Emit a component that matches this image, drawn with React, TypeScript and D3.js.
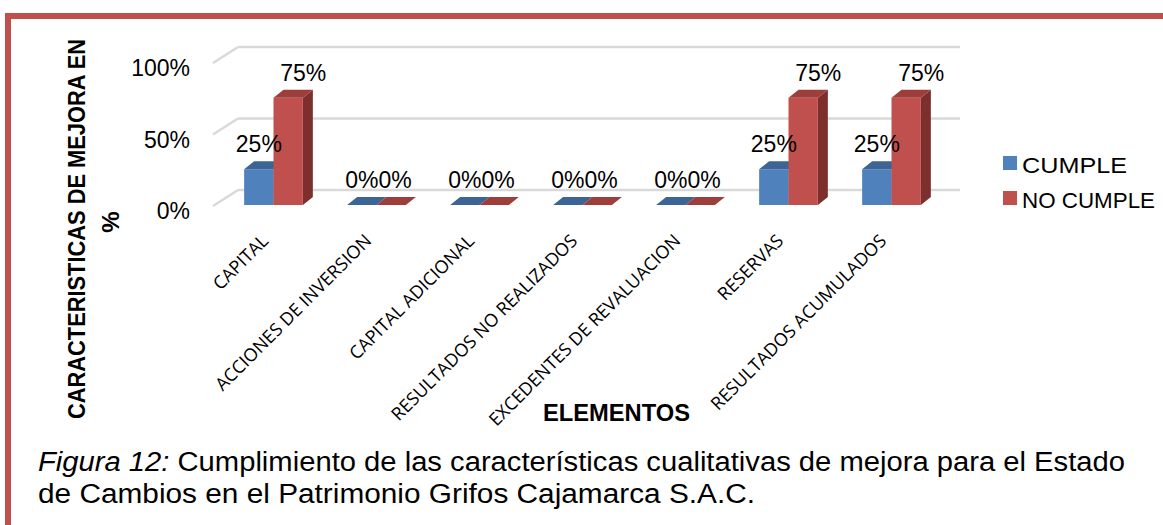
import React from 'react';
import * as d3 from 'd3';

const categories = [
  'CAPITAL',
  'ACCIONES DE INVERSION',
  'CAPITAL ADICIONAL',
  'RESULTADOS NO REALIZADOS',
  'EXCEDENTES DE REVALUACION',
  'RESERVAS',
  'RESULTADOS ACUMULADOS',
];
const cumple = [0.25, 0, 0, 0, 0, 0.25, 0.25];
const noCumple = [0.75, 0, 0, 0, 0, 0.75, 0.75];
const seriesNames = ['CUMPLE', 'NO CUMPLE'];
const yTicks = [0, 0.5, 1];

const series = [
  { name: seriesNames[0], values: cumple, front: '#4F81BD', top: '#3C6596', side: '#2E4F78' },
  { name: seriesNames[1], values: noCumple, front: '#C0504D', top: '#9E3E3B', side: '#7D2F2D' },
];

const W = 1163;
const H = 525;
const ARIAL = '"Liberation Sans", Arial, sans-serif';

export default function App() {
  const x = d3.scaleBand<string>()
    .domain(categories)
    .range([222, 943])
    .paddingInner(0.43)
    .paddingOuter(0.215);
  const xs = d3.scaleBand<string>()
    .domain(seriesNames)
    .range([0, x.bandwidth()]);
  const y = d3.scaleLinear().domain([0, 1]).range([205, 62]);
  const fmt = d3.format('.0%');

  // 3d offsets
  const depth = { dx: 10, dy: -8 };
  const wall = { dx: 25, dy: -15 };

  return (
    <svg width={W} height={H} style={{ position: 'absolute', left: 0, top: 0, background: '#fff' }}>
      {/* frame */}
      <rect x={5} y={13} width={W - 5} height={6} fill="#C0504D" />
      <rect x={5} y={13} width={6} height={H - 13} fill="#C0504D" />

      {/* gridlines on back wall */}
      {yTicks.map((t) => (
        <g key={t} stroke="#D9D9D9" strokeWidth={2.5} fill="none">
          <line x1={213} y1={y(t) + 1} x2={213 + wall.dx} y2={y(t) + wall.dy} />
          <line x1={213 + wall.dx} y1={y(t) + wall.dy} x2={960} y2={y(t) + wall.dy} />
        </g>
      ))}

      {/* y tick labels */}
      {yTicks.map((t) => (
        <text key={t} x={190} y={y(t) + 14} textAnchor="end" fontFamily={ARIAL} fontSize={23} fill="#000">
          {fmt(t)}
        </text>
      ))}

      {/* bars */}
      {categories.map((c, i) => (
        <g key={c}>
          {series.map((s) => {
            const v = s.values[i];
            const x0 = (x(c) as number) + (xs(s.name) as number);
            const w = xs.bandwidth();
            const y0 = y(0);
            const y1 = y(v);
            const topPts = [
              [x0, y1], [x0 + w, y1], [x0 + w + depth.dx, y1 + depth.dy], [x0 + depth.dx, y1 + depth.dy],
            ];
            const sidePts = [
              [x0 + w, y1], [x0 + w + depth.dx, y1 + depth.dy], [x0 + w + depth.dx, y0 + depth.dy], [x0 + w, y0],
            ];
            return (
              <g key={s.name}>
                {v > 0 && <polygon points={sidePts.map((p) => p.join(',')).join(' ')} fill={s.side} />}
                {v > 0 && <rect x={x0} y={y1} width={w} height={y0 - y1} fill={s.front} />}
                <polygon points={topPts.map((p) => p.join(',')).join(' ')} fill={s.top} />
              </g>
            );
          })}
        </g>
      ))}

      {/* data labels: zero labels sit side by side around the pair centre */}
      {categories.map((c, i) => (
        <g key={c}>
          {series.map((s, si) => {
            const v = s.values[i];
            const pairMid = (x(c) as number) + x.bandwidth() / 2 + 2;
            let cx = (x(c) as number) + (xs(s.name) as number) + xs.bandwidth() / 2 + (si === 1 ? v * 20 : 0);
            let anchor = 'middle';
            if (v === 0) {
              cx = pairMid;
              anchor = si === 0 ? 'end' : 'start';
            }
            return (
              <text key={s.name} x={cx} y={y(v) + depth.dy - 9} textAnchor={anchor} fontFamily={ARIAL} fontSize={23} fill="#000">
                {fmt(v)}
              </text>
            );
          })}
        </g>
      ))}

      {/* category labels */}
      {categories.map((c) => {
        const cx = (x(c) as number) + x.bandwidth() / 2 - 4;
        return (
          <text
            key={c}
            transform={`translate(${cx},242) rotate(-45)`}
            textAnchor="end"
            fontFamily='"Open Sans", sans-serif'
            fontSize={18}
            fill="#000"
          >
            {c}
          </text>
        );
      })}

      {/* axis titles */}
      <text
        transform="translate(85,229) rotate(-90)"
        textAnchor="middle"
        fontFamily={ARIAL}
        fontWeight="bold"
        fontSize={24}
        textLength={380}
        lengthAdjust="spacingAndGlyphs"
      >
        CARACTERISTICAS DE MEJORA EN
      </text>
      <text transform="translate(119,222) rotate(-90)" textAnchor="middle" fontFamily={ARIAL} fontWeight="bold" fontSize={24}>
        %
      </text>
      <text x={543} y={421} fontFamily={ARIAL} fontWeight="bold" fontSize={24} textLength={147} lengthAdjust="spacingAndGlyphs">
        ELEMENTOS
      </text>

      {/* legend */}
      {series.map((s, i) => (
        <g key={s.name} transform={`translate(1003,${156 + i * 35})`}>
          <rect x={0} y={0} width={14} height={14} fill={s.front} />
          <text x={19} y={17} fontFamily={ARIAL} fontSize={22} textLength={i === 0 ? 105 : 133} lengthAdjust="spacingAndGlyphs">
            {s.name}
          </text>
        </g>
      ))}

      {/* caption */}
      <text x={38} y={471} fontFamily={ARIAL} fontSize={27} textLength={1087} lengthAdjust="spacingAndGlyphs">
        <tspan fontStyle="italic">Figura 12:</tspan> Cumplimiento de las características cualitativas de mejora para el Estado
      </text>
      <text x={38} y={503} fontFamily={ARIAL} fontSize={27} textLength={717} lengthAdjust="spacingAndGlyphs">
        de Cambios en el Patrimonio Grifos Cajamarca S.A.C.
      </text>
    </svg>
  );
}
